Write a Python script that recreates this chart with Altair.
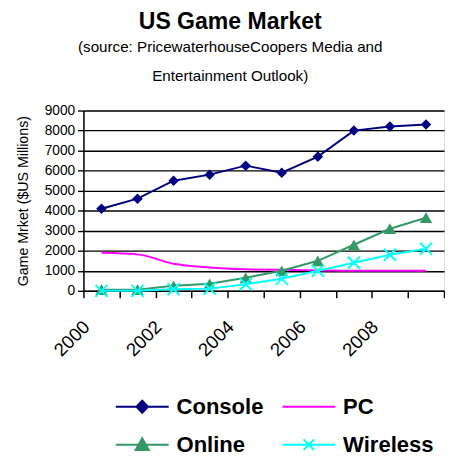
import altair as alt
import pandas as pd

years = [2000, 2001, 2002, 2003, 2004, 2005, 2006, 2007, 2008, 2009]
console = [4100, 4600, 5500, 5800, 6250, 5900, 6700, 8000, 8200, 8300]
pc = [1900, 1820, 1350, 1170, 1080, 1050, 1020, 1000, 1000, 1000]
online = [60, 60, 250, 350, 650, 1000, 1500, 2300, 3100, 3650]
wireless = [0, 0, 80, 110, 330, 600, 1000, 1400, 1800, 2100]

series_names = ["Console", "PC", "Online", "Wireless"]
series_colors = ["#000080", "#FF00FF", "#339966", "#00FFFF"]
y_ticks = [0, 1000, 2000, 3000, 4000, 5000, 6000, 7000, 8000, 9000]
title_text = "US Game Market"
subtitle_lines = ["(source:  PricewaterhouseCoopers Media and", "Entertainment Outlook)"]
y_title = "Game Mrket ($US Millions)"

legend_paths = [
    "M-1,0L1,0M0,-0.23L0.22,0L0,0.23L-0.22,0Z",
    "M-1,0L1,0",
    "M-1,0L1,0M0,-0.24L0.25,0.2L-0.25,0.2Z",
    "M-1,0L1,0M-0.2,-0.2L0.2,0.2M-0.2,0.2L0.2,-0.2",
]

rows = []
for name, vals in zip(series_names, [console, pc, online, wireless]):
    for yr, v in zip(years, vals):
        rows.append({"year": yr, "series": name, "value": v})
df = pd.DataFrame(rows)

FONT = "Liberation Sans"
COL = dict(zip(series_names, series_colors))

x_enc = alt.X(
    "year:O",
    scale=alt.Scale(type="band", paddingInner=0, paddingOuter=0),
    axis=alt.Axis(
        tickBand="extent",
        labelAngle=315,
        labelAlign="right",
        labelBaseline="top",
        labelOffset=-22,
        labelPadding=20,
        labelExpr="datum.value % 2 == 0 ? datum.label : ''",
        labelOverlap=False,
        labelFont=FONT,
        labelFontSize=19,
        labelColor="black",
        tickSize=7,
        tickColor="black",
        tickWidth=1.5,
        domainColor="black",
        domainWidth=1.5,
        grid=False,
    ),
    title=None,
)
y_enc = alt.Y(
    "value:Q",
    scale=alt.Scale(domain=[0, 9000], nice=False),
    axis=alt.Axis(
        values=y_ticks,
        format="d",
        grid=True,
        gridColor="black",
        gridWidth=1.4,
        domainColor="black",
        domainWidth=1.5,
        tickSize=6,
        tickColor="black",
        tickWidth=1.4,
        labelFont=FONT,
        labelFontSize=14,
        labelColor="black",
        labelPadding=3,
        titleFont=FONT,
        titleFontSize=14.5,
        titleFontWeight="normal",
        titleColor="black",
        titlePadding=14,
    ),
    title=y_title,
)

base = alt.Chart(df)


def sel(name):
    return base.transform_filter(alt.datum.series == name)


console_line = sel("Console").mark_line(strokeWidth=2, color=COL["Console"]).encode(x=x_enc, y=y_enc)
console_pts = sel("Console").mark_point(
    shape="diamond", filled=True, size=115, opacity=1, color=COL["Console"]
).encode(x=x_enc, y=y_enc)
pc_line = sel("PC").mark_line(strokeWidth=2, interpolate="monotone", color=COL["PC"]).encode(x=x_enc, y=y_enc)
online_line = sel("Online").mark_line(strokeWidth=2, color=COL["Online"]).encode(x=x_enc, y=y_enc)
online_pts = sel("Online").mark_point(
    shape="triangle-up", filled=True, size=160, opacity=1, color=COL["Online"]
).encode(x=x_enc, y=y_enc)
wireless_line = sel("Wireless").mark_line(strokeWidth=2, color=COL["Wireless"]).encode(x=x_enc, y=y_enc)
wireless_pts = sel("Wireless").mark_point(
    shape="M-1,-1L1,1M-1,1L1,-1", filled=False, size=150, strokeWidth=2, opacity=1, color=COL["Wireless"]
).encode(x=x_enc, y=y_enc)

leg = alt.Legend(
    orient="none",
    direction="horizontal",
    legendX=32,
    legendY=292,
    columns=2,
    columnPadding=18,
    rowPadding=16,
    symbolSize=2916,
    symbolStrokeWidth=2,
    clipHeight=20,
    padding=0,
    labelFont=FONT,
    labelFontSize=22.5,
    labelFontWeight="bold",
    labelColor="black",
    labelOffset=7,
    title=None,
)
legend_layer = base.transform_filter("false").mark_point(filled=True, opacity=1, strokeWidth=2).encode(
    x=x_enc,
    y=y_enc,
    fill=alt.Fill("series:N", scale=alt.Scale(domain=series_names, range=series_colors), legend=leg),
    stroke=alt.Stroke("series:N", scale=alt.Scale(domain=series_names, range=series_colors), legend=leg),
    shape=alt.Shape("series:N", scale=alt.Scale(domain=series_names, range=legend_paths), legend=leg),
)

chart = (
    alt.layer(
        console_line, console_pts, pc_line, online_line, online_pts, wireless_line, wireless_pts, legend_layer
    )
    .properties(
        width=368,
        height=184,
        padding={"left": 7, "top": -2, "right": 0, "bottom": 0},
        title=alt.TitleParams(
            text=title_text,
            subtitle=subtitle_lines,
            font=FONT,
            fontSize=23.5,
            fontWeight="bold",
            color="black",
            subtitleFont=FONT,
            subtitleFontSize=15.5,
            subtitleFontWeight="normal",
            subtitleColor="black",
            subtitleLineHeight=29,
            subtitlePadding=7,
            anchor="middle",
            frame="bounds",
            offset=20,
        ),
    )
    .configure_view(stroke=None)
    .configure(background="white")
)

chart.save("out.html", embed_options={"renderer": "svg", "actions": False})
